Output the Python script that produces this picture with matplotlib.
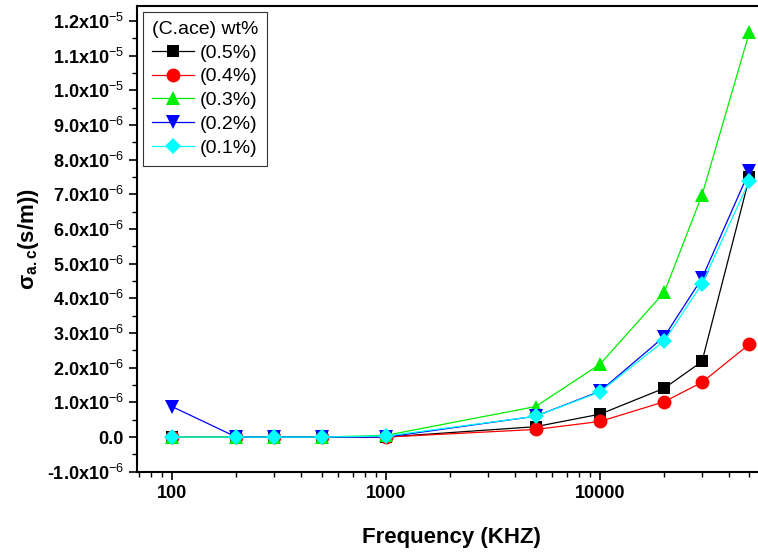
import numpy as np
import matplotlib
matplotlib.use("Agg")
import matplotlib.pyplot as plt
from matplotlib.ticker import FixedLocator, FixedFormatter, LogLocator, NullFormatter, MultipleLocator

plt.rcParams['font.family'] = ['Liberation Sans', 'DejaVu Sans']
plt.rcParams['mathtext.fontset'] = 'custom'
plt.rcParams['mathtext.rm'] = 'Liberation Sans'
plt.rcParams['mathtext.bf'] = 'Liberation Sans:bold'
plt.rcParams['mathtext.it'] = 'Liberation Sans:italic'

# frequency in KHZ
freq = [100, 200, 300, 500, 1000, 5000, 10000, 20000, 30000, 50000]

# conductivity, in units of 1e-6 s/m
sigma_05 = [0.0, 0.0, 0.0, 0.0, 0.0, 0.30, 0.66, 1.41, 2.18, 7.50]
sigma_04 = [0.0, 0.0, 0.0, 0.0, 0.0, 0.22, 0.45, 1.02, 1.58, 2.68]
sigma_03 = [0.0, 0.0, 0.0, 0.0, 0.05, 0.88, 2.10, 4.18, 6.98, 11.68]
sigma_02 = [0.88, 0.0, 0.0, 0.0, 0.0, 0.60, 1.32, 2.90, 4.58, 7.68]
sigma_01 = [0.0, 0.0, 0.0, 0.0, 0.03, 0.60, 1.30, 2.78, 4.42, 7.40]

labels = ['(0.5%)', '(0.4%)', '(0.3%)', '(0.2%)', '(0.1%)']
colors = ['black', 'red', '#00ee00', 'blue', 'cyan']
markers = ['s', 'o', '^', 'v', 'D']
sizes = [9, 10, 10, 10, 8.5]

ytick_vals = np.arange(-1, 13)
ytick_labels = ['-1.0x10$^{-6}$', '0.0'] + \
    [f'{v:.1f}x10$^{{-6}}$' for v in range(1, 10)] + \
    ['1.0x10$^{-5}$', '1.1x10$^{-5}$', '1.2x10$^{-5}$']

fig = plt.figure(figsize=(7.58, 5.55), dpi=100)
# right edge runs past the figure, as in the original (no right spine visible)
ax = fig.add_axes([0.1807, 0.150, 0.8298, 0.839])

series = [sigma_05, sigma_04, sigma_03, sigma_02, sigma_01]
for s, lab, c, m, ms in zip(series, labels, colors, markers, sizes):
    y = np.array(s) * 1e-6
    ax.plot(freq, y, color=c, marker=m, markersize=ms, linewidth=0.9,
            markeredgewidth=0, label=lab)

ax.set_xscale('log')
ax.set_xlim(68.6, 59700)
ax.set_ylim(-1e-6, 1.243e-5)

ax.xaxis.set_major_locator(FixedLocator([100, 1000, 10000]))
ax.xaxis.set_major_formatter(FixedFormatter(['100', '1000', '10000']))
ax.xaxis.set_minor_locator(LogLocator(base=10, subs=np.arange(2, 10)))
ax.xaxis.set_minor_formatter(NullFormatter())

ax.yaxis.set_major_locator(FixedLocator(ytick_vals * 1e-6))
ax.yaxis.set_major_formatter(FixedFormatter(ytick_labels))
ax.yaxis.set_minor_locator(MultipleLocator(0.5e-6))

ax.tick_params(which='major', direction='out', length=6, width=1.2,
               labelsize=13)
ax.tick_params(which='minor', direction='out', length=3.5, width=1.0)
for lbl in ax.get_xticklabels() + ax.get_yticklabels():
    lbl.set_fontweight('bold')
for sp in ax.spines.values():
    sp.set_linewidth(1.5)

ax.set_xlabel('Frequency (KHZ)', fontsize=16, fontweight='bold', labelpad=18)
ax.set_ylabel(r'$\mathbf{\sigma_{a.c}}$(s/m))', fontsize=16,
              fontweight='bold', labelpad=4)

leg = ax.legend(title='(C.ace) wt%', loc='upper left', fontsize=14,
                title_fontsize=14, frameon=True, fancybox=False,
                edgecolor='black', handlelength=2.2, labelspacing=0.32,
                handletextpad=0.3, borderpad=0.45, borderaxespad=0.3)
leg.get_frame().set_linewidth(0.8)

fig.savefig('out.png', dpi=100)
